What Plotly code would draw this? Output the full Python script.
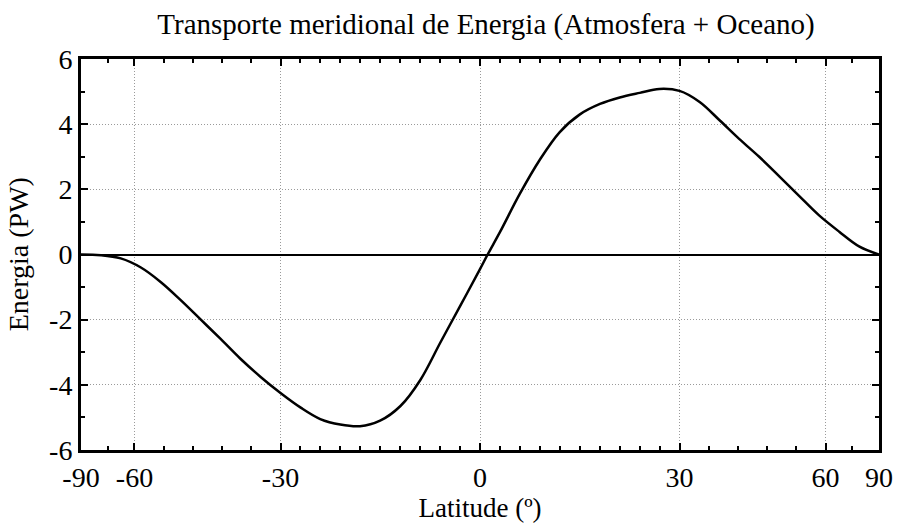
import numpy as np
import plotly.graph_objects as go

# Data (latitude in degrees, energy transport in PW)
lat = [-90.0, -71.8, -64.2, -58.2, -53.1, -48.6, -44.4, -40.5, -36.9, -33.4, -30.0, -26.7,
       -23.6, -20.5, -17.5, -14.5, -11.5, -8.6, -5.7, -2.9, 0.0, 1.1, 2.9, 5.7, 8.6, 11.5,
       14.5, 17.5, 20.5, 23.6, 26.7, 30.0, 33.4, 36.9, 40.5, 44.4, 48.6, 53.1, 58.2, 64.2,
       71.8, 90.0]
energy = [0.0, -0.02, -0.12, -0.4, -0.85, -1.4, -2.0, -2.6, -3.2, -3.75, -4.25, -4.7,
          -5.05, -5.22, -5.27, -5.1, -4.65, -3.85, -2.7, -1.6, -0.45, 0.0, 0.7, 1.85, 2.9, 3.75,
          4.3, 4.62, 4.82, 4.96, 5.08, 5.02, 4.68, 4.12, 3.55, 3.0, 2.4, 1.8, 1.2, 0.7,
          0.25, 0.0]

tick_deg = [-90, -60, -30, 0, 30, 60, 90]
tick_text = ["-90", "-60", "-30", "0", "30", "60", "90"]
minor_div = [2, 5, 10, 10, 5, 2]
y_ticks = [-6, -4, -2, 0, 2, 4, 6]
y_text = ["-6", "-4", "-2", "0", "2", "4", "6"]

x = np.sin(np.radians(lat))
major = np.sin(np.radians(tick_deg))
minor = []
for a, b, n in zip(major[:-1], major[1:], minor_div):
    for k in range(1, n):
        minor.append(a + (b - a) * k / n)

FONT = "Liberation Serif"
GRID = dict(showgrid=True, gridcolor="#9a9a9a", griddash="1px,2px", gridwidth=1)

fig = go.Figure()
fig.add_trace(go.Scatter(x=x, y=energy, mode="lines",
                         line=dict(color="black", width=2.5, shape="spline", smoothing=1.0),
                         showlegend=False, hoverinfo="skip"))

fig.update_layout(
    width=905, height=527,
    margin=dict(l=81, r=16, t=59, b=69),
    paper_bgcolor="white", plot_bgcolor="white",
    font=dict(family=FONT, color="black", size=28),
    title=dict(text="Transporte meridional de Energia (Atmosfera + Oceano)", x=0.537, xanchor="center",
               y=0.955, yanchor="middle", font=dict(family=FONT, size=29, color="black")),
)
fig.add_annotation(text="Energia (PW)", textangle=-90, xref="paper", yref="paper",
                   x=(18 - 81) / 808, y=0.5, xanchor="center", yanchor="middle", showarrow=False,
                   font=dict(family=FONT, size=28, color="black"))
fig.update_xaxes(
    range=[-1, 1], tickmode="array", tickvals=major, ticktext=tick_text,
    ticks="inside", ticklen=7, tickwidth=2, tickcolor="black",
    showline=True, linewidth=3, linecolor="black", mirror="ticks",
    zeroline=False, **GRID,
    minor=dict(tickmode="array", tickvals=minor, ticks="inside", ticklen=4, tickwidth=2,
               tickcolor="black", showgrid=False),
    tickfont=dict(family=FONT, size=28),
    title=dict(text="Latitude (º)", font=dict(family=FONT, size=27), standoff=4),
)
fig.update_yaxes(
    range=[-6, 6], tickmode="array", tickvals=y_ticks, ticktext=y_text,
    ticks="inside", ticklen=7, tickwidth=2, tickcolor="black",
    showline=True, linewidth=3, linecolor="black", mirror="ticks",
    zeroline=True, zerolinecolor="black", zerolinewidth=2, **GRID,
    minor=dict(tickmode="linear", tick0=-6, dtick=1, ticks="inside", ticklen=4, tickwidth=2,
               tickcolor="black", showgrid=False),
    tickfont=dict(family=FONT, size=28),
)

fig.write_html("out.html")
